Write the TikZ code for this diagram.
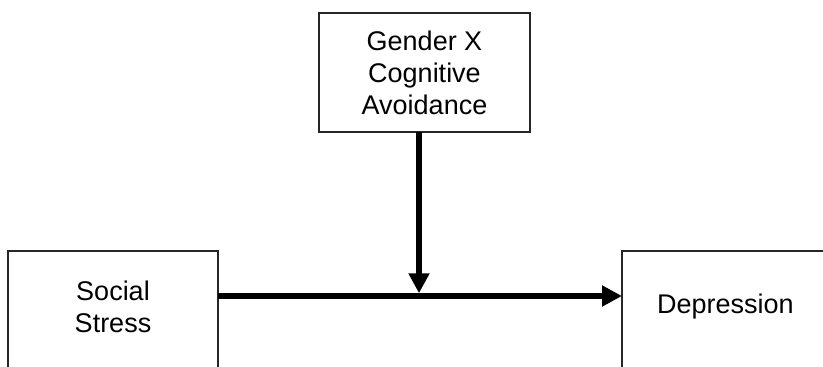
\documentclass[tikz,border=0pt]{standalone}
\usepackage{fontspec}
\setmainfont{Liberation Sans}
\usetikzlibrary{arrows.meta}
\begin{document}
\begin{tikzpicture}[x=1pt,y=-1pt,
  box/.style={draw=black!85, line width=1.2pt, rectangle, inner sep=0pt, outer sep=0pt},
  lbl/.style={font=\fontsize{27}{32}\selectfont, align=center, inner sep=0pt},
  flow/.style={line width=5.5pt, -{Triangle[length=20pt,width=20pt]}}]
\useasboundingbox (0,0) rectangle (823,367);
\clip (0,0) rectangle (823,367);
% boxes
\node[box, lbl, minimum width=211pt, minimum height=119pt] (mod) at (424.5,72.5) {Gender X\\Cognitive\\Avoidance};
\node[box, anchor=north west, minimum width=210pt, minimum height=200pt] (ssbox) at (8,251) {};
\node[box, anchor=north west, minimum width=260pt, minimum height=200pt] (depbox) at (622,251) {};
% texts
\node[lbl] (sstxt) at (113,307) {Social\\Stress};
\node[lbl] (deptxt) at (725.5,307) {Depression};
% connectors
\coordinate (jn) at (419,296);
\coordinate (jntop) at (419,293.25);
\draw[flow] (ssbox.east |- jn) -- (depbox.west |- jn);
\draw[flow] (mod.south -| jn) -- (jntop);
\end{tikzpicture}
\end{document}
